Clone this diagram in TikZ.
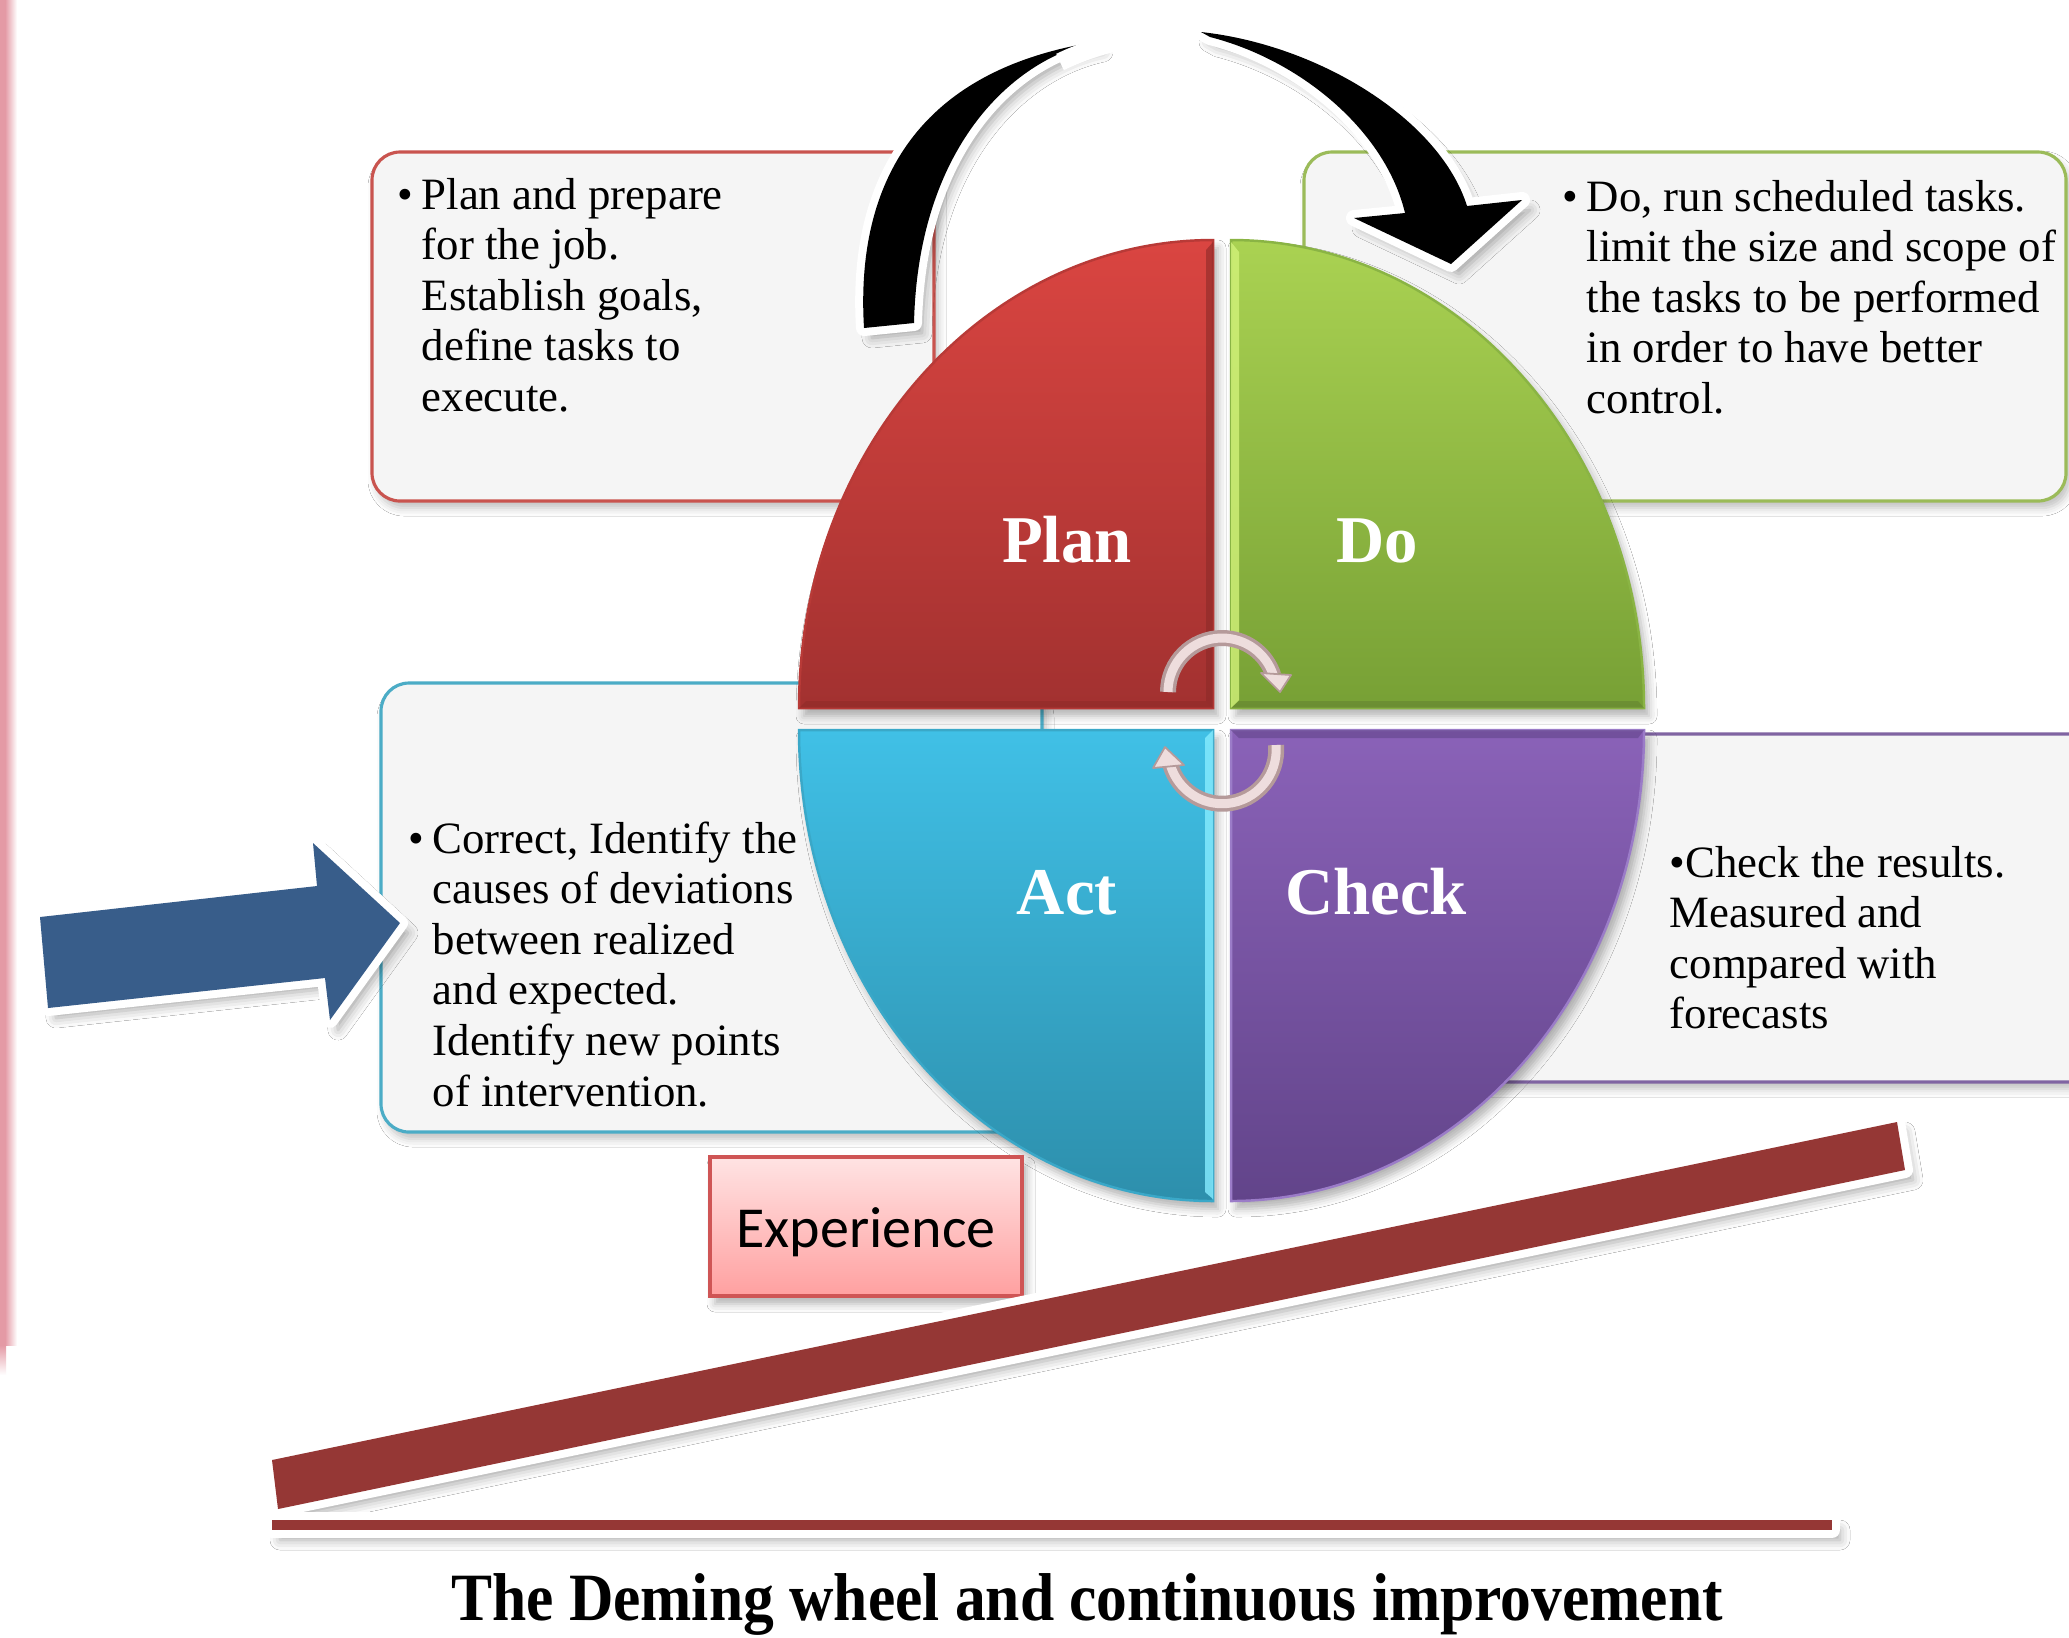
\documentclass[tikz,border=0pt]{standalone}
\usepackage{fontspec}
\setmainfont{Liberation Serif}
\newfontfamily\calfont{Carlito}
\usetikzlibrary{shadows.blur}
\definecolor{boxfill}{HTML}{F5F5F5}
\definecolor{planbd}{HTML}{C9544F}
\definecolor{dobd}{HTML}{9BBB59}
\definecolor{actbd}{HTML}{4BACC6}
\definecolor{chkbd}{HTML}{8064A2}
\definecolor{plantop}{HTML}{DA4541}
\definecolor{planbot}{HTML}{A23130}
\definecolor{planedge}{HTML}{B83A37}
\definecolor{dotop}{HTML}{AAD252}
\definecolor{dobot}{HTML}{77A035}
\definecolor{doedge}{HTML}{8AB444}
\definecolor{acttop}{HTML}{40C0E6}
\definecolor{actbot}{HTML}{2D8FAC}
\definecolor{actedge}{HTML}{3AA8C8}
\definecolor{chktop}{HTML}{8A62B8}
\definecolor{chkbot}{HTML}{62448A}
\definecolor{chkedge}{HTML}{9B7CC8}
\definecolor{dolight}{HTML}{D2F27A}
\definecolor{actlight}{HTML}{86ECFF}
\definecolor{plandark}{HTML}{8C2A28}
\definecolor{cycedge}{HTML}{B59A9A}
\definecolor{cycfill}{HTML}{EEDDDD}
\definecolor{barred}{HTML}{953735}
\definecolor{bluearr}{HTML}{385D8A}
\definecolor{exptop}{HTML}{FFE3E3}
\definecolor{expbot}{HTML}{FFA0A0}
\definecolor{expedge}{HTML}{CF5555}
\definecolor{stripc}{HTML}{E49AA5}
\begin{document}
\begin{tikzpicture}[x=0.1mm,y=0.1mm,
  infobox/.style={rounded corners=2.8mm, fill=boxfill, line width=0.9pt,
    blur shadow={shadow xshift=0.4mm, shadow yshift=-0.7mm, shadow opacity=25, shadow blur radius=0.8mm}},
  quad/.style={line width=0.7pt,
    blur shadow={shadow xshift=0.5mm, shadow yshift=-0.8mm, shadow opacity=30, shadow blur radius=0.8mm}},
  bodytext/.style={anchor=base west, inner sep=0pt, font=\fontsize{12.75}{14.4}\selectfont},
  wheellabel/.style={anchor=base, inner sep=0pt, text=white, font=\fontsize{19}{22}\selectfont\bfseries},
  shad/.style={blur shadow={shadow xshift=0.8mm, shadow yshift=-1mm, shadow opacity=35, shadow blur radius=1mm}},
  whiteout/.style={preaction={draw=white, line width=1.6mm, line join=round}},
  cycarc/.style={line width=1.6mm, draw=cycedge, postaction={draw=cycfill, line width=0.9mm}},
  cychead/.style={fill=cycfill, draw=cycedge, line width=0.5pt, line join=round}
]
\useasboundingbox (0,0) rectangle (2069,-1637);
\fill[white] (0,0) rectangle (2069,-1637);

% left pink strip
\fill[stripc] (0,0) rectangle (5,-1345);
\shade[left color=stripc, right color=white] (5,0) rectangle (17,-1345);
\shade[top color=stripc, bottom color=white] (0,-1345) rectangle (6,-1375);

% information boxes
\draw[infobox, draw=planbd] (372,-152) rectangle (934,-501);
\draw[infobox, draw=dobd] (1304,-152) rectangle (2066,-501);
\draw[infobox, draw=actbd] (381,-683) rectangle (1042,-1132);
\draw[infobox, draw=chkbd] (1300,-734) rectangle (2110,-1082);

% wheel quadrants
\path[quad, top color=plantop, bottom color=planbot, draw=planedge]
  (1213,-708) -- (799,-708) arc[start angle=180, end angle=90, x radius=414, y radius=468] -- cycle;
\path[quad, top color=dotop, bottom color=dobot, draw=doedge]
  (1231,-708) -- (1231,-240) arc[start angle=90, end angle=0, x radius=413, y radius=468] -- cycle;
\path[quad, top color=acttop, bottom color=actbot, draw=actedge]
  (1213,-730) -- (799,-730) arc[start angle=180, end angle=270, x radius=414, y radius=471] -- cycle;
\path[quad, top color=chktop, bottom color=chkbot, draw=chkedge]
  (1231,-730) -- (1644,-730) arc[start angle=0, end angle=-90, x radius=413, y radius=471] -- cycle;

% bevels
\fill[plandark, opacity=0.6] (1213,-242) -- (1206,-250) -- (1206,-701) -- (1213,-708) -- cycle;
\fill[plandark, opacity=0.5] (799,-708) -- (806,-701) -- (1206,-701) -- (1213,-708) -- cycle;
\fill[dolight, opacity=0.8] (1231,-242) -- (1239,-252) -- (1239,-700) -- (1231,-708) -- cycle;
\fill[doedge!70!black, opacity=0.5] (1231,-708) -- (1239,-701) -- (1638,-701) -- (1644,-708) -- cycle;
\fill[actlight, opacity=0.8] (1213,-730) -- (1205,-738) -- (1205,-1192) -- (1213,-1199) -- cycle;
\fill[chkbot, opacity=0.6] (1231,-730) -- (1239,-738) -- (1638,-738) -- (1644,-730) -- cycle;

% wheel labels
\node[wheellabel] (plan) at (1067,-562) {Plan};
\node[wheellabel] (do) at (1377,-562) {Do};
\node[wheellabel] (act) at (1067,-914) {Act};
\node[wheellabel] (check) at (1376,-914) {Check};

% small cycle arrows
\draw[cycarc] (1168,-692) arc[start angle=180, end angle=18, radius=54];
\filldraw[cychead] (1261,-673) -- (1291,-675) -- (1280,-692) -- cycle;
\draw[cycarc] (1276,-745) arc[start angle=5, end angle=-163, radius=54];
\filldraw[cychead] (1153,-768) -- (1184,-765) -- (1165,-747) -- cycle;

% box texts
\node[bodytext] (plantext) at (421,-209) {\parbox[t]{120mm}{\leavevmode\llap{\textbullet\hspace{2.5pt}}Plan and prepare\\for the job.\\Establish goals,\\define tasks to\\execute.}};
\node[bodytext] (dotext) at (1586,-211) {\parbox[t]{120mm}{\leavevmode\llap{\textbullet\hspace{2.5pt}}Do, run scheduled tasks.\\limit the size and scope of\\the tasks to be performed\\in order to have better\\control.}};
\node[bodytext] (acttext) at (432,-853) {\parbox[t]{120mm}{\leavevmode\llap{\textbullet\hspace{2.5pt}}Correct, Identify the\\causes of deviations\\between realized\\and expected.\\Identify new points\\of intervention.}};
\node[bodytext] (chktext) at (1669,-877) {\parbox[t]{120mm}{\textbullet Check the results.\\Measured and\\compared with\\forecasts}};

% big black curved arrow
\path[shad, whiteout, fill=black]
  (864,-328) .. controls (855,-180) and (920,-70) .. (1095,-42)
  .. controls (1010,-60) and (918,-150) .. (914,-323) -- cycle;
\draw[white, line width=1.8mm] (1060,-62) .. controls (1110,-38) and (1160,-32) .. (1206,-36);
\path[shad, whiteout, fill=black]
  (1201,-32) .. controls (1320,-45) and (1440,-120) .. (1467,-206)
  -- (1522,-200) -- (1451,-264) -- (1354,-218) -- (1405,-213)
  .. controls (1385,-130) and (1300,-60) .. (1210,-37) -- cycle;

% blue arrow
\path[shad, whiteout, fill=bluearr]
  (40,-917) -- (317,-886) -- (313,-843) -- (400,-923) -- (330,-1020) -- (325,-978) -- (48,-1008) -- cycle;

% experience box
\path[draw=expedge, line width=1pt, top color=exptop, bottom color=expbot,
  blur shadow={shadow xshift=0.5mm, shadow yshift=-0.8mm, shadow opacity=30, shadow blur radius=0.8mm}]
  (710,-1157) rectangle (1022,-1296);
\node[anchor=base, inner sep=0pt, font=\calfont\fontsize{16.5}{19}\selectfont] (exp) at (866,-1247) {Experience};

% improvement bars
\path[shad, whiteout, fill=barred] (272,-1460) -- (1897,-1122) -- (1905,-1170) -- (278,-1509) -- cycle;
\path[shad, whiteout, fill=barred] (272,-1520) rectangle (1832,-1530);

% title
\node[anchor=base, inner sep=0pt, font=\fontsize{17.5}{20}\selectfont\bfseries] (title) at (1087,-1620)
  {\scalebox{1}[1.1]{The Deming wheel and continuous improvement}};
\end{tikzpicture}
\end{document}
